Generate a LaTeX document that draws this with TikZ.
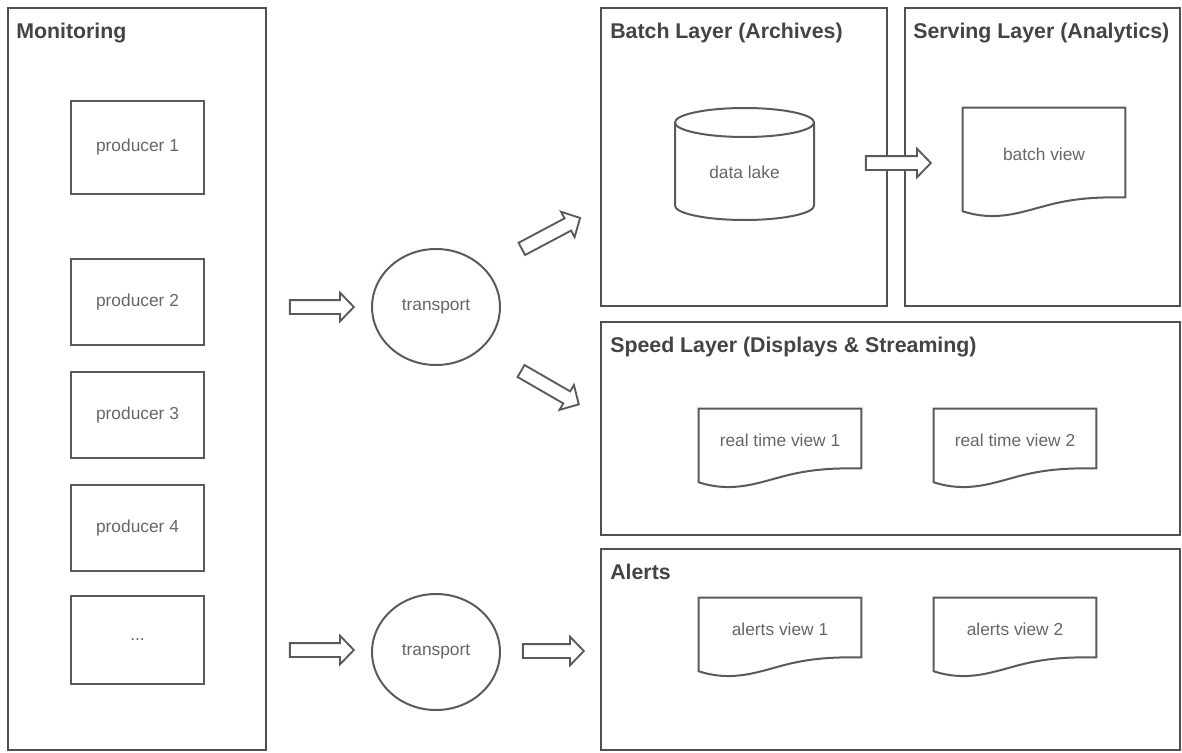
\documentclass[tikz,border=0pt]{standalone}
\usepackage{fontspec}
\setmainfont{Liberation Sans}
\usetikzlibrary{shapes.geometric,shapes.arrows,calc}
\definecolor{bord}{HTML}{505050}
\definecolor{ln}{HTML}{5A5A5A}
\definecolor{tt}{HTML}{444444}
\definecolor{tx}{HTML}{666666}
\newcommand\docdraw[1]{\draw[shapeline] ($(#1.south east)+(0,-14)$) -- (#1.north east) -- (#1.north west) -- (#1.south west) .. controls ($(#1.south west)+(32,10.5)$) and ($(#1.south west)+(57,1.4)$) .. ($(#1.south west)+(81,-5)$) .. controls ($(#1.south west)+(113,-14)$) and ($(#1.south west)+(138,-14)$) .. ($(#1.south east)+(0,-14)$) -- cycle;}
\begin{document}
\begin{tikzpicture}[x=0.75pt,y=-0.75pt,
  frame/.style={draw=bord,line width=1.6pt},
  shapeline/.style={draw=ln,line width=1.5pt,line join=miter},
  title/.style={anchor=base west,inner sep=0pt,text=tt,font=\fontsize{16}{19}\selectfont\bfseries},
  lbl/.style={text=tx,font=\fontsize{13}{15}\selectfont},
  prod/.style={lbl,draw=ln,line width=1.5pt,minimum width=99.75pt,inner sep=0pt},
  docnode/.style={lbl,minimum width=121.5pt,inner sep=0pt,text depth=8pt},
  trans/.style={lbl,ellipse,draw=ln,line width=1.5pt,minimum width=96pt,minimum height=87pt,inner sep=0pt},
  blockarrow/.style={single arrow,draw=ln,fill=white,line width=1.4pt,inner xsep=0pt,inner ysep=4.5pt,
    single arrow head extend=5.6pt,single arrow tip angle=92,single arrow head indent=0pt,minimum width=0pt}
]
\useasboundingbox (0,0) rectangle (1182,753);

% frames
\draw[frame] (8,8) rectangle (266,750);
\draw[frame] (601,8) rectangle (887,306);
\draw[frame] (905,8) rectangle (1180,306);
\draw[frame] (601,322) rectangle (1180,535);
\draw[frame] (601,549) rectangle (1180,750);

% titles
\node[title] (tmon) at (16,38) {Monitoring};
\node[title] (tbatch) at (610,38) {Batch Layer (Archives)};
\node[title] (tserv) at (913,38) {Serving Layer (Analytics)};
\node[title] (tspeed) at (610,352) {Speed Layer (Displays \& Streaming)};
\node[title] (talert) at (610,579) {Alerts};

% producers
\node[prod,minimum height=69.75pt] (p1) at (137.5,147.5) {producer 1};
\node[prod,minimum height=64.5pt] (p2) at (137.5,302) {producer 2};
\node[prod,minimum height=64.5pt] (p3) at (137.5,415) {producer 3};
\node[prod,minimum height=64.5pt] (p4) at (137.5,528) {producer 4};
\node[prod,minimum height=66pt] (p5) at (137.5,640) {...};

% transports
\node[trans] (t1) at (436,307) {transport};
\node[trans] (t2) at (436,652) {transport};

% data lake cylinder
\node[lbl] (dl) at (744.5,172) {data lake};
\draw[shapeline] (675,122.5) -- (675,205.5)
  .. controls (675,213.5) and (706.1,220) .. (744.5,220)
  .. controls (782.9,220) and (814,213.5) .. (814,205.5) -- (814,122.5);
\draw[shapeline] (744.5,122.5) ellipse [x radius=52.125pt, y radius=10.875pt];

% documents
\node[docnode,minimum height=77.25pt] (bv) at (1044,159.5) {batch view};
\docdraw{bv}
\node[docnode,minimum height=54.75pt] (rt1) at (780,445.5) {real time view 1};
\docdraw{rt1}
\node[docnode,minimum height=54.75pt] (rt2) at (1015,445.5) {real time view 2};
\docdraw{rt2}
\node[docnode,minimum height=54.75pt] (av1) at (780,634.5) {alerts view 1};
\docdraw{av1}
\node[docnode,minimum height=54.75pt] (av2) at (1015,634.5) {alerts view 2};
\docdraw{av2}

% block arrows
\node[blockarrow,minimum height=48pt] (a1) at (318.5,307) {};
\node[blockarrow,minimum height=49.5pt,rotate=28] (a2) at (548,235) {};
\node[blockarrow,minimum height=50pt,rotate=-30] (a3) at (547,386) {};
\node[blockarrow,minimum height=48.75pt] (a4) at (895,163) {};
\node[blockarrow,minimum height=48pt] (a5) at (318.5,650) {};
\node[blockarrow,minimum height=45.75pt] (a6) at (550,651) {};
\end{tikzpicture}
\end{document}
